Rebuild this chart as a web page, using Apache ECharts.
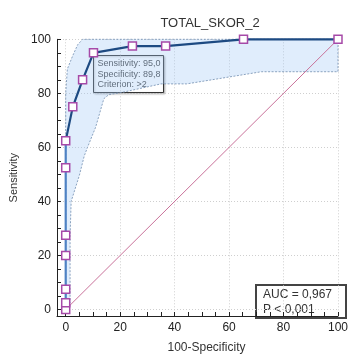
<!DOCTYPE html>
<html>
<head>
<meta charset="utf-8">
<script src="https://cdn.jsdelivr.net/npm/echarts@6/dist/echarts.min.js"></script>
<style>
  html, body { margin: 0; padding: 0; background: #fff; }
  #rocChart { width: 351px; height: 359px; }
</style>
</head>
<body>
<div id="rocChart"></div>
<script>
// ROC points (x = 100-Specificity, y = Sensitivity)
const fprValues = [0, 0, 0, 0, 0, 0, 0, 2.6, 6.2, 10.2, 24.5, 36.7, 65.3, 100];
const sensValues = [0, 2.5, 7.5, 20, 27.5, 52.5, 62.5, 75, 85, 95, 97.5, 97.5, 100, 100];

// confidence band edges
const upperX = [0, 0, 0.6, 2.6, 4.4, 6.2, 100];
const upperY = [0, 80, 89, 94, 98, 100, 100];
const lowerX = [0, 1.6, 1.6, 2, 5, 6.8, 8, 11, 14, 15.8, 20, 35, 44.4, 71.9, 100];
const lowerY = [0, 2.5, 27, 40, 49.6, 56.8, 60, 67.5, 78, 79.5, 80.2, 83.5, 83.5, 88, 88];

const diagX = [0, 100];
const diagY = [0, 100];

const labelTicks = [0, 20, 40, 60, 80, 100];
const minorTicks = [0, 5, 10, 15, 20, 25, 30, 35, 40, 45, 50, 55, 60, 65, 70, 75, 80, 85, 90, 95, 100];

const FONT = 'Liberation Sans, Arial, sans-serif';

const rocData = fprValues.map((x, i) => [x, sensValues[i]]);
const diagData = diagX.map((x, i) => [x, diagY[i]]);

const myChart = echarts.init(document.getElementById('rocChart'));

const mainAxis = (pos) => ({
  type: 'value',
  position: pos,
  min: pos === 'bottom' ? -3.2 : -2.4,
  max: 100,
  axisLine: { show: true, onZero: false, lineStyle: { color: '#222', width: 1 } },
  axisTick: { show: true, inside: true, length: 4, customValues: minorTicks, lineStyle: { color: '#222' } },
  axisLabel: { customValues: labelTicks, color: '#222', fontSize: 12, fontFamily: FONT, margin: 6 },
  splitLine: { show: false }
});

const gridAxis = (pos) => ({
  type: 'value',
  position: pos,
  min: pos === 'top' ? -3.2 : -2.4,
  max: 100,
  axisLine: { show: false },
  axisTick: { show: false, customValues: labelTicks },
  axisLabel: { show: false },
  splitLine: { show: true, lineStyle: { color: '#cfcfcf', type: [1, 2], width: 1 } }
});

const option = {
  animation: false,
  title: {
    text: 'TOTAL_SKOR_2',
    left: 205,
    textAlign: 'center',
    top: 12,
    textStyle: { fontSize: 13, fontWeight: 'normal', color: '#333', fontFamily: FONT }
  },
  grid: { left: 57, right: 5.3, top: 39.3, bottom: 34 },
  xAxis: [
    Object.assign(mainAxis('bottom'), {
      name: '100-Specificity',
      nameLocation: 'middle',
      nameGap: 26,
      nameTextStyle: { fontSize: 12, color: '#333', fontFamily: FONT, padding: [0, 0, 0, 18] }
    }),
    gridAxis('top')
  ],
  yAxis: [
    Object.assign(mainAxis('left'), {
      name: 'Sensitivity',
      nameLocation: 'middle',
      nameGap: 38,
      nameTextStyle: { fontSize: 11, color: '#333', fontFamily: FONT }
    }),
    gridAxis('right')
  ],
  series: [
    {
      type: 'custom',
      name: 'band',
      z: 1,
      silent: true,
      clip: false,
      data: [0],
      renderItem: function (params, api) {
        const pts = [];
        upperX.forEach((x, i) => pts.push(api.coord([x, upperY[i]])));
        for (let i = lowerX.length - 1; i >= 0; i--) {
          pts.push(api.coord([lowerX[i], lowerY[i]]));
        }
        return {
          type: 'polygon',
          shape: { points: pts },
          style: { fill: 'rgba(160,200,245,0.32)', stroke: '#7f98b8', lineWidth: 0.9, lineDash: [2, 1.5] }
        };
      }
    },
    {
      type: 'line',
      name: 'diagonal',
      data: diagData,
      symbol: 'none',
      z: 3,
      silent: true,
      itemStyle: { color: '#c9729a' },
      lineStyle: { color: '#c9729a', width: 1 }
    },
    {
      type: 'line',
      name: 'ROC',
      data: rocData,
      z: 5,
      clip: false,
      symbol: 'rect',
      symbolSize: 8,
      showAllSymbol: true,
      itemStyle: { color: '#fff', borderColor: '#a64aa8', borderWidth: 1.5 },
      lineStyle: {
        width: 2.2,
        color: {
          type: 'linear', x: 0, y: 0, x2: 0, y2: 1,
          colorStops: [
            { offset: 0, color: '#1d4a82' },
            { offset: 0.37, color: '#1d4a82' },
            { offset: 0.38, color: '#4e82c4' },
            { offset: 1, color: '#4e82c4' }
          ]
        }
      },
      emphasis: { disabled: true }
    }
  ],
  graphic: [
    {
      type: 'group',
      left: 93,
      top: 55,
      z: 20,
      children: [
        {
          type: 'rect',
          shape: { x: 0, y: 0, width: 70, height: 37 },
          style: { fill: '#fff', stroke: '#333', lineWidth: 1, shadowBlur: 2, shadowColor: 'rgba(0,0,0,0.25)', shadowOffsetX: 1, shadowOffsetY: 1 }
        },
        {
          type: 'text',
          x: 4,
          y: 3,
          style: {
            text: 'Sensitivity: 95,0\nSpecificity: 89,8\nCriterion: >2',
            fontSize: 9,
            lineHeight: 10.5,
            fill: '#444',
            fontFamily: FONT
          }
        }
      ]
    },
    {
      type: 'group',
      left: 255,
      top: 284,
      z: 20,
      children: [
        {
          type: 'rect',
          shape: { x: 0, y: 0, width: 90, height: 33 },
          style: { fill: '#fff', stroke: '#444', lineWidth: 2 }
        },
        {
          type: 'text',
          x: 7,
          y: 2,
          style: {
            text: 'AUC = 0,967\nP < 0,001',
            fontSize: 12,
            lineHeight: 15,
            fill: '#333',
            fontFamily: FONT
          }
        }
      ]
    }
  ]
};

myChart.setOption(option);
</script>
</body>
</html>
